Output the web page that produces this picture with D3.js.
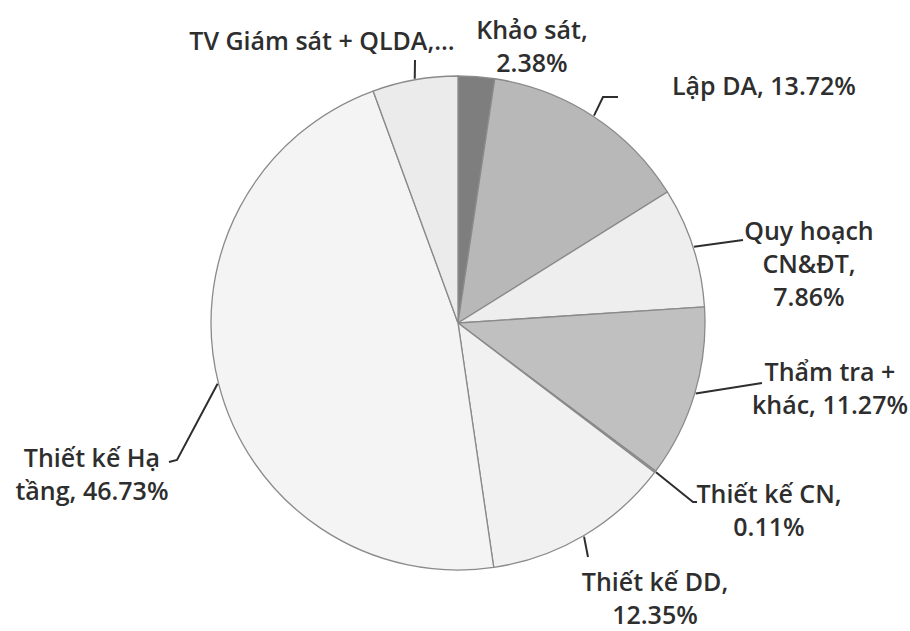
<!DOCTYPE html>
<html>
<head>
<meta charset="utf-8">
<script src="https://cdn.jsdelivr.net/npm/d3@7"></script>
<style>
  body { margin: 0; background: #fff; }
  svg { display: block; }
  .lbl { font-family: "Open Sans", sans-serif; font-weight: 600; font-size: 25px; fill: #2e2e2e; }
</style>
</head>
<body>
<svg id="chart"></svg>
<script>
// data
const categories = ["Khảo sát", "Lập DA", "Quy hoạch CN&ĐT", "Thẩm tra + khác",
  "Thiết kế CN", "Thiết kế DD", "Thiết kế Hạ tầng", "TV Giám sát + QLDA,..."];
const shares = [2.38, 13.72, 7.86, 11.27, 0.11, 12.35, 46.73, 5.58];
const labelLines = [
  ["Khảo sát,", "2.38%"],
  ["Lập DA, 13.72%"],
  ["Quy hoạch", "CN&ĐT,", "7.86%"],
  ["Thẩm tra +", "khác, 11.27%"],
  ["Thiết kế CN,", "0.11%"],
  ["Thiết kế DD,", "12.35%"],
  ["Thiết kế Hạ", "tầng, 46.73%"],
  ["TV Giám sát + QLDA,..."]
];

// styles (scanned greys)
const fills = ["#7e7e7e", "#b8b8b8", "#eeeeee", "#c0c0c0", "#9a9a9a", "#f1f1f1", "#f4f4f4", "#ebebeb"];

// label layout: first baseline + leader bends (leader starts on the slice edge)
const layout = [
  { x: 532, y: 39, anchor: "middle", leader: null },
  { x: 672, y: 95, anchor: "start", leader: [[603, 97], [618, 97]] },
  { x: 809, y: 240, anchor: "middle", leader: [[743, 240]] },
  { x: 830, y: 381, anchor: "middle", leader: [[762, 383]] },
  { x: 769, y: 503, anchor: "middle", leader: [[693, 502], [697, 502]] },
  { x: 655, y: 591, anchor: "middle", leader: [[588, 557]] },
  { x: 92, y: 467, anchor: "middle", leader: [[177, 460], [169, 462]] },
  { x: 322, y: 50, anchor: "middle", leader: [[415, 60]] }
];

const width = 910, height = 631;
const cx = 458, cy = 323, radius = 247, lineHeight = 33;

const svg = d3.select("#chart").attr("width", width).attr("height", height);

const pie = d3.pie().value((d) => d).sort(null);
const arcs = pie(shares);

const arc = d3.arc().innerRadius(0).outerRadius(radius);
const edgeArc = d3.arc().innerRadius(radius + 1).outerRadius(radius + 1);

const g = svg.append("g").attr("transform", `translate(${cx},${cy})`);

// slices
g.selectAll("path.slice")
  .data(arcs)
  .enter()
  .append("path")
  .attr("class", "slice")
  .attr("d", arc)
  .attr("fill", (d, i) => fills[i])
  .attr("stroke", "#8a8a8a")
  .attr("stroke-width", 1.3);

// leader lines
const line = d3.line();
arcs.forEach((d, i) => {
  const lay = layout[i];
  if (!lay.leader) return;
  const p = edgeArc.centroid(d);
  const pts = [[p[0] + cx, p[1] + cy]].concat(lay.leader);
  svg.append("path")
    .attr("d", line(pts))
    .attr("fill", "none")
    .attr("stroke", "#2e2e2e")
    .attr("stroke-width", 2);
});

// labels
categories.forEach((c, i) => {
  const lay = layout[i];
  const t = svg.append("text")
    .attr("class", "lbl")
    .attr("text-anchor", lay.anchor)
    .attr("x", lay.x)
    .attr("y", lay.y);
  labelLines[i].forEach((s, j) => {
    t.append("tspan").attr("x", lay.x).attr("dy", j === 0 ? 0 : lineHeight).text(s);
  });
});
</script>
</body>
</html>
